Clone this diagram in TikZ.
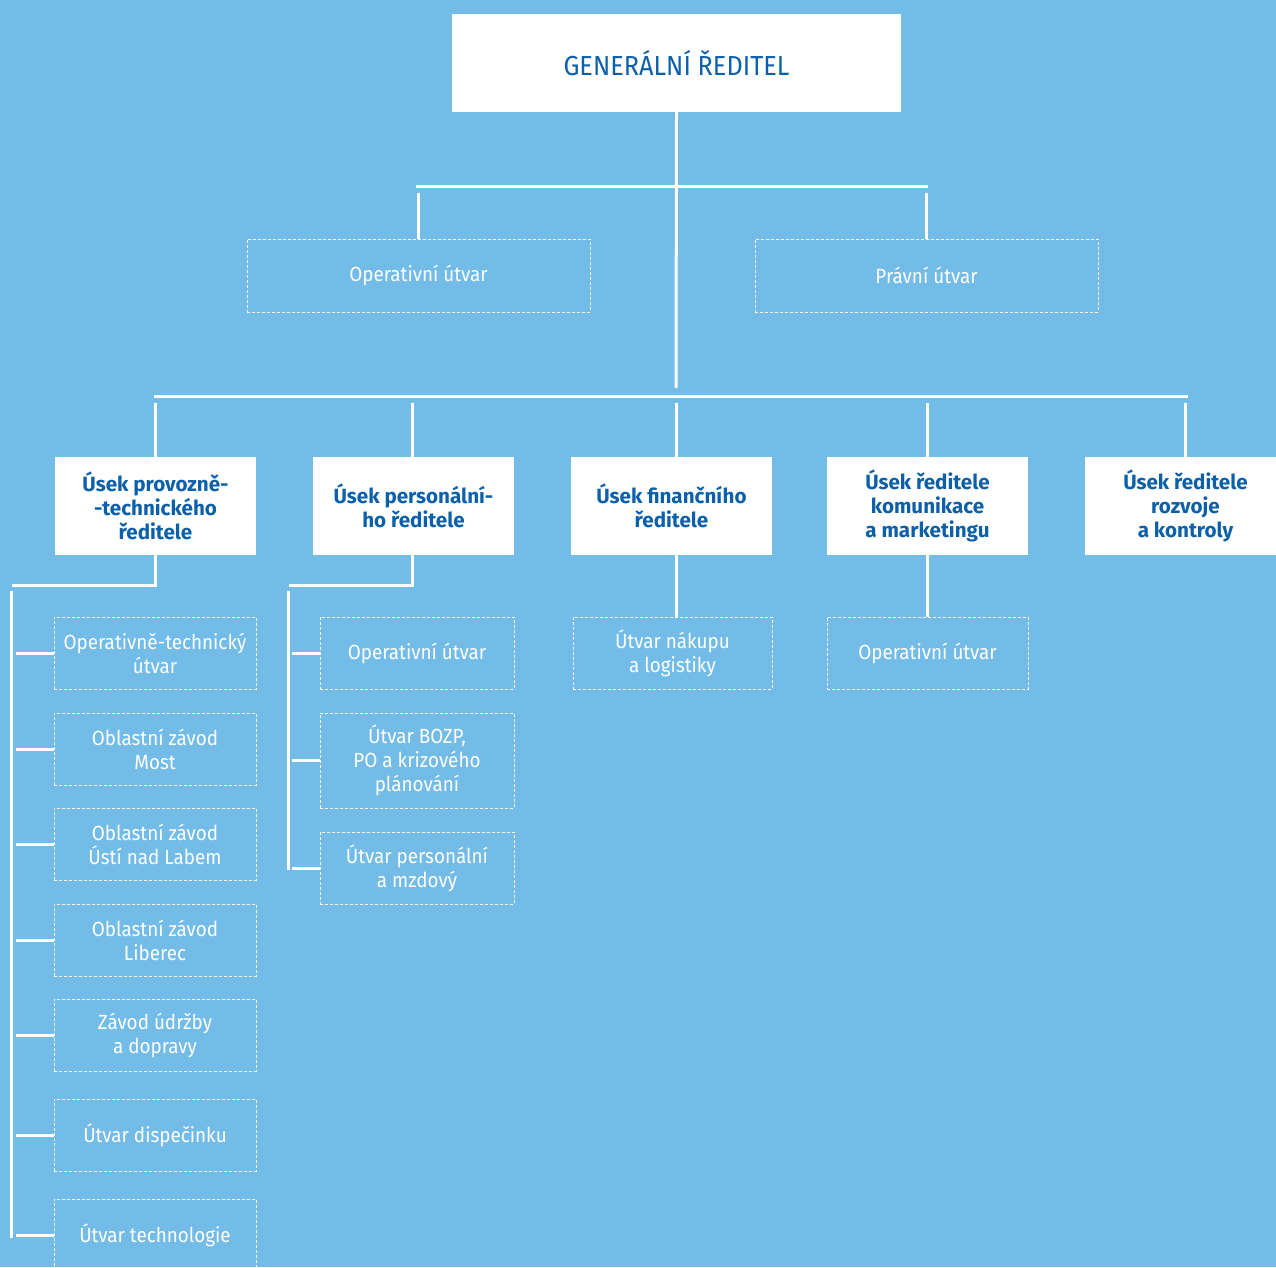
\documentclass[tikz,border=0pt]{standalone}
\usepackage{fontspec}
\setmainfont{Fira Sans}
\newfontfamily\subfont[FakeStretch=0.92]{Fira Sans}
\definecolor{bg}{RGB}{115,188,232}
\definecolor{tblue}{RGB}{12,96,170}
\begin{document}
\begin{tikzpicture}[x=1pt,y=-1pt,
 conn/.style={white, line width=3pt},
 topbox/.style={fill=white, inner sep=0pt, text=tblue, align=center},
 headbox/.style={fill=white, inner sep=0pt, text=tblue, font=\bfseries\fontsize{20.6}{24}\selectfont, align=center, minimum width=201pt, minimum height=98pt},
 subbox/.style={draw=white, line width=0.9pt, dash pattern=on 3pt off 2pt, inner sep=0pt, text=white, font=\subfont\fontsize{20.5}{24}\selectfont, align=center, minimum height=72pt}]
\fill[bg] (0,0) rectangle (1276,1267);
\useasboundingbox (0,0) rectangle (1276,1267);

% top
\node[topbox, minimum width=449pt, minimum height=98pt, font=\subfont\fontsize{27.5}{30}\selectfont] (gr) at (676.5,63) {GENERÁLNÍ ŘEDITEL};
\node[subbox, minimum width=343pt, minimum height=73pt] (ou) at (418.5,275.5) {Operativní útvar};
\node[subbox, minimum width=343pt, minimum height=73pt] (pu) at (926.5,275.5) {Právní útvar};

% heads
\node[headbox] (h1) at (155.5,506) {Úsek provozně-\\-technického\\ředitele};
\node[headbox] (h2) at (413.5,506) {Úsek personální-\\ho ředitele};
\node[headbox] (h3) at (671.5,506) {Úsek finančního\\ředitele};
\node[headbox] (h4) at (927.5,506) {Úsek ředitele\\komunikace\\a marketingu};
\node[headbox] (h5) at (1185.5,506) {Úsek ředitele\\rozvoje\\a kontroly};

% column 1
\node[subbox, minimum width=202pt] (s11) at (155,653) {Operativně-technický\\útvar};
\node[subbox, minimum width=202pt] (s12) at (155,749) {Oblastní závod\\Most};
\node[subbox, minimum width=202pt] (s13) at (155,844) {Oblastní závod\\Ústí nad Labem};
\node[subbox, minimum width=202pt] (s14) at (155,940) {Oblastní závod\\Liberec};
\node[subbox, minimum width=202pt] (s15) at (155,1035) {Závod údržby\\a dopravy};
\node[subbox, minimum width=202pt] (s16) at (155,1135) {Útvar dispečinku};
\node[subbox, minimum width=202pt] (s17) at (155,1235) {Útvar technologie};

% column 2
\node[subbox, minimum width=194pt] (s21) at (417,653) {Operativní útvar};
\node[subbox, minimum width=194pt, minimum height=95pt] (s22) at (417,760.5) {Útvar BOZP,\\PO a krizového\\plánování};
\node[subbox, minimum width=194pt] (s23) at (417,868) {Útvar personální\\a mzdový};

% column 3, 4
\node[subbox, minimum width=199pt] (s31) at (672.5,653) {Útvar nákupu\\a logistiky};
\node[subbox, minimum width=201pt] (s41) at (927.5,653) {Operativní útvar};

% junction coordinates
\coordinate (j1) at (676,388);
\coordinate (a1) at (416,186);
\coordinate (a2) at (928,186);
\coordinate (b1) at (154,396);
\coordinate (b2) at (1188,396);
\coordinate (c1) at (11,591);
\coordinate (c2) at (11,1238);
\coordinate (d1) at (288,591);
\coordinate (d2) at (288,870);

% connectors
\draw[conn] (gr.south) -- (j1);
\draw[conn] (a1) -- (a2);
\draw[conn] (ou.north) -- +(0,-46);
\draw[conn] (pu.north) -- +(0,-46);
\draw[conn] (b1) -- (b2);
\draw[conn] (h1.north) -- +(0,-54);
\draw[conn] ([xshift=-1.5pt]h2.north) -- +(0,-54);
\draw[conn] (h3.north -| j1) -- +(0,-54);
\draw[conn] (h4.north) -- +(0,-54);
\draw[conn] (h5.north) -- +(0,-54);

\draw[conn] (h1.south) -- +(0,30) -- +(-144,30);
\draw[conn] (c1) -- (c2);
\foreach \n in {s11,s12,s13,s14,s15,s16,s17}
  \draw[conn] (\n.west) -- +(-38,0);

\draw[conn] ([xshift=-1.5pt]h2.south) -- +(0,30) -- +(-123,30);
\draw[conn] (d1) -- (d2);
\foreach \n in {s21,s22,s23}
  \draw[conn] (\n.west) -- +(-28,0);

\draw[conn] (h3.south -| j1) -- (s31.north -| j1);
\draw[conn] (h4.south) -- (s41.north);
\end{tikzpicture}
\end{document}
